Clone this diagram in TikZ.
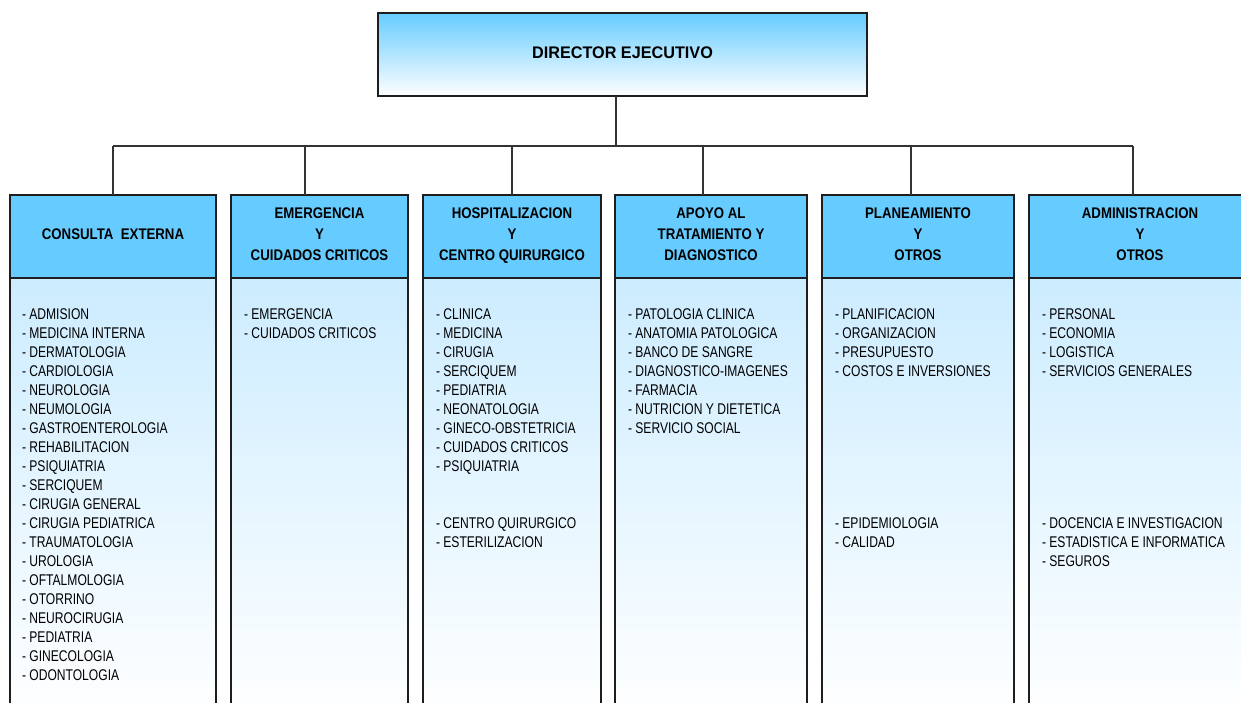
\documentclass[tikz,border=0pt]{standalone}
\usepackage{fontspec}
\setmainfont{Liberation Sans}
\newfontfamily\itemfont{Liberation Sans}[FakeStretch=0.78]
\newfontfamily\headfont{Liberation Sans}[FakeStretch=0.86]
\newfontfamily\dirfont{Liberation Sans}[FakeStretch=0.965]
\newcommand\hdrdepth{\rule[-4pt]{0pt}{4pt}}
\definecolor{hdr}{HTML}{66CCFF}
\definecolor{bodytop}{HTML}{CCECFF}
\definecolor{edge}{HTML}{1E1E1E}
\definecolor{connc}{HTML}{333333}
\tikzset{
  dirbox/.style={draw=edge, line width=1.2pt, top color=hdr, bottom color=white,
    minimum width=489pt, minimum height=83pt, anchor=north west, inner sep=0pt, outer sep=0pt,
    font=\dirfont\bfseries\fontsize{16.8}{19}\selectfont},
  headbox/.style={draw=edge, line width=1.2pt, fill=hdr, minimum height=83pt,
    anchor=north west, inner sep=0pt, outer sep=0pt, align=center,
    font=\headfont\bfseries\fontsize{15.4}{21}\selectfont},
  bodybox/.style={draw=edge, line width=1.2pt, top color=bodytop, bottom color=white,
    minimum height=440pt, anchor=north west, inner sep=0pt, outer sep=0pt},
  itemtxt/.style={anchor=north west, inner sep=0pt, outer sep=0pt, align=left,
    font=\itemfont\fontsize{15.5}{19}\selectfont},
  conn/.style={draw=connc, line width=1.1pt}
}
\begin{document}
\begin{tikzpicture}[x=1pt,y=-1pt]
\useasboundingbox (0,0) rectangle (1241,702);
\clip (0,0) rectangle (1241,702);

\node[dirbox] (dir) at (378,13) {DIRECTOR EJECUTIVO\hdrdepth};

% headers
\node[headbox, minimum width=206pt] (h1) at (10,195) {CONSULTA\ \ EXTERNA\hdrdepth};
\node[headbox, minimum width=177pt] (h2) at (231,195) {EMERGENCIA\\Y\\CUIDADOS CRITICOS\hdrdepth};
\node[headbox, minimum width=178pt] (h3) at (423,195) {HOSPITALIZACION\\Y\\CENTRO QUIRURGICO\hdrdepth};
\node[headbox, minimum width=192pt] (h4) at (615,195) {APOYO AL\\TRATAMIENTO Y\\DIAGNOSTICO\hdrdepth};
\node[headbox, minimum width=192pt] (h5) at (822,195) {PLANEAMIENTO\\Y\\OTROS\hdrdepth};
\node[headbox, minimum width=222pt] (h6) at (1029,195) {ADMINISTRACION\\Y\\OTROS\hdrdepth};

% bodies
\node[bodybox, minimum width=206pt] (b1) at (10,278) {};
\node[bodybox, minimum width=177pt] (b2) at (231,278) {};
\node[bodybox, minimum width=178pt] (b3) at (423,278) {};
\node[bodybox, minimum width=192pt] (b4) at (615,278) {};
\node[bodybox, minimum width=192pt] (b5) at (822,278) {};
\node[bodybox, minimum width=222pt] (b6) at (1029,278) {};

% item lists
\node[itemtxt] (t1) at (22,309) {- ADMISION\\- MEDICINA INTERNA\\- DERMATOLOGIA\\- CARDIOLOGIA\\- NEUROLOGIA\\- NEUMOLOGIA\\- GASTROENTEROLOGIA\\- REHABILITACION\\- PSIQUIATRIA\\- SERCIQUEM\\- CIRUGIA GENERAL\\- CIRUGIA PEDIATRICA\\- TRAUMATOLOGIA\\- UROLOGIA\\- OFTALMOLOGIA\\- OTORRINO\\- NEUROCIRUGIA\\- PEDIATRIA\\- GINECOLOGIA\\- ODONTOLOGIA};
\node[itemtxt] (t2) at (244,309) {- EMERGENCIA\\- CUIDADOS CRITICOS};
\node[itemtxt] (t3) at (436,309) {- CLINICA\\- MEDICINA\\- CIRUGIA\\- SERCIQUEM\\- PEDIATRIA\\- NEONATOLOGIA\\- GINECO-OBSTETRICIA\\- CUIDADOS CRITICOS\\- PSIQUIATRIA\\[38pt]- CENTRO QUIRURGICO\\- ESTERILIZACION};
\node[itemtxt] (t4) at (628,309) {- PATOLOGIA CLINICA\\- ANATOMIA PATOLOGICA\\- BANCO DE SANGRE\\- DIAGNOSTICO-IMAGENES\\- FARMACIA\\- NUTRICION Y DIETETICA\\- SERVICIO SOCIAL};
\node[itemtxt] (t5) at (835,309) {- PLANIFICACION\\- ORGANIZACION\\- PRESUPUESTO\\- COSTOS E INVERSIONES\\[133pt]- EPIDEMIOLOGIA\\- CALIDAD};
\node[itemtxt] (t6) at (1042,309) {- PERSONAL\\- ECONOMIA\\- LOGISTICA\\- SERVICIOS GENERALES\\[133pt]- DOCENCIA E INVESTIGACION\\- ESTADISTICA E INFORMATICA\\- SEGUROS};

% connectors
\coordinate (busL) at (113,146);
\coordinate (busR) at (1133,146);
\draw[conn] ([xshift=-6.5pt]dir.south) -- ([xshift=-6.5pt]dir.south |- busL);
\draw[conn] (busL) -- (busR);
\draw[conn] (h1.north) -- (h1.north |- busL);
\draw[conn] ([xshift=-14.5pt]h2.north) -- ([xshift=-14.5pt]h2.north |- busL);
\draw[conn] (h3.north) -- (h3.north |- busL);
\draw[conn] ([xshift=-8pt]h4.north) -- ([xshift=-8pt]h4.north |- busL);
\draw[conn] ([xshift=-7pt]h5.north) -- ([xshift=-7pt]h5.north |- busL);
\draw[conn] ([xshift=-7pt]h6.north) -- (busR);
\end{tikzpicture}
\end{document}
